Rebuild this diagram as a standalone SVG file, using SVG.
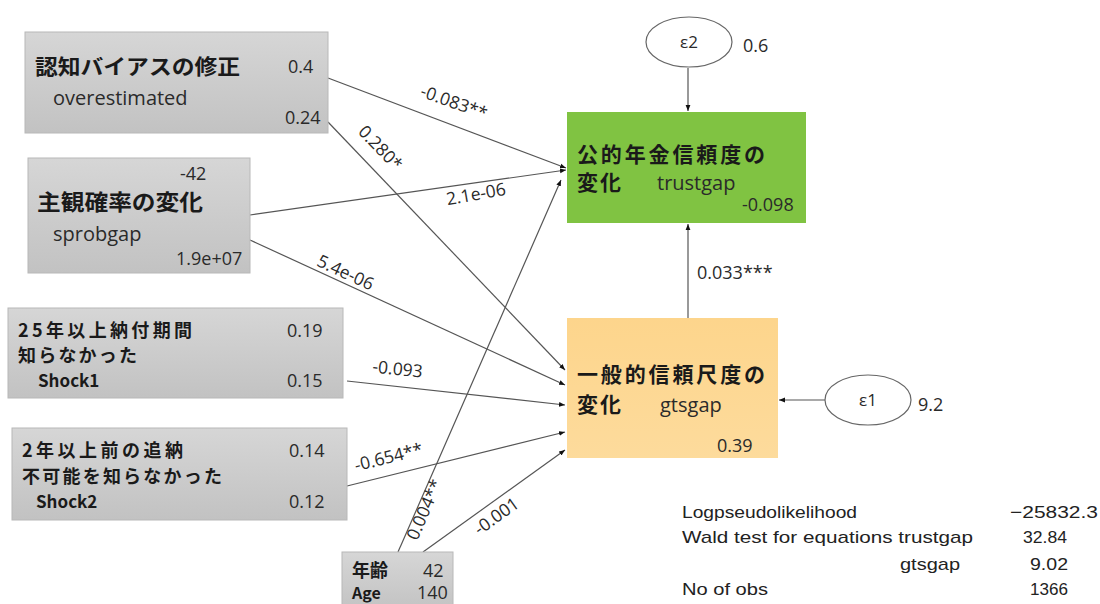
<svg xmlns="http://www.w3.org/2000/svg" width="1100" height="604" viewBox="0 0 1100 604">
<defs>
<linearGradient id="gray" x1="0" y1="0" x2="0" y2="1">
<stop offset="0" stop-color="#d6d6d6"/>
<stop offset="1" stop-color="#c2c2c2"/>
</linearGradient>
<linearGradient id="orange" x1="0" y1="0" x2="0" y2="1">
<stop offset="0" stop-color="#fdd58c"/>
<stop offset="1" stop-color="#fddb9c"/>
</linearGradient>
<marker id="ah" viewBox="0 0 10 10" refX="10" refY="5" markerWidth="6" markerHeight="6" orient="auto" markerUnits="userSpaceOnUse">
<path d="M0,1 L10,5 L0,9 z" fill="#111"/>
</marker>
</defs>
<style>
.box{fill:url(#gray);stroke:#b8b8b8;stroke-width:1}
.jp{font-family:"Noto Sans CJK JP","Open Sans",sans-serif;font-weight:bold;fill:#1a1a1a}
.en{font-family:"Open Sans","Noto Sans CJK JP",sans-serif;fill:#2a2a2a}
.num{font-family:"Open Sans",sans-serif;font-size:18px;fill:#2a2a2a}
.lbl{font-family:"Open Sans",sans-serif;font-size:17.5px;fill:#2a2a2a;text-anchor:middle}
.ln{stroke:#555;stroke-width:1.2;fill:none;marker-end:url(#ah)}
.stat{font-family:"Liberation Sans",sans-serif;font-size:17px;fill:#222}
</style>
<rect width="1100" height="604" fill="#fff"/>

<g id="connectors">
<line class="ln" x1="328" y1="78" x2="566" y2="168"/>
<line class="ln" x1="328" y1="122" x2="565" y2="370"/>
<line class="ln" x1="250" y1="215" x2="566" y2="170"/>
<line class="ln" x1="250" y1="240" x2="565" y2="385"/>
<line class="ln" x1="347" y1="381" x2="565" y2="405"/>
<line class="ln" x1="347" y1="486" x2="565" y2="432"/>
<line class="ln" x1="423" y1="552" x2="565" y2="450"/>
<line class="ln" x1="398" y1="552" x2="561" y2="180"/>
<line class="ln" x1="688" y1="318" x2="688" y2="224"/>
<line class="ln" x1="688" y1="68" x2="688" y2="111"/>
<line class="ln" x1="825" y1="400" x2="779" y2="400"/>
<text class="lbl" transform="translate(452,108) rotate(20)">-0.083**</text>
<text class="lbl" transform="translate(376,152) rotate(46)">0.280*</text>
<text class="lbl" transform="translate(477,200) rotate(-10)">2.1e-06</text>
<text class="lbl" transform="translate(343,278) rotate(25)">5.4e-06</text>
<text class="lbl" transform="translate(397,375) rotate(6)">-0.093</text>
<text class="lbl" transform="translate(390,463) rotate(-14)">-0.654**</text>
<text class="lbl" transform="translate(430,512) rotate(-66.5)">0.004**</text>
<text class="lbl" transform="translate(500,521) rotate(-35.7)">-0.001</text>
<text class="num" x="697" y="279">0.033***</text>
</g>

<g id="node-bias">
<rect class="box" x="25" y="32" width="303" height="101"/>
<text class="jp" x="35" y="74" font-size="21" textLength="205" lengthAdjust="spacingAndGlyphs">認知バイアスの修正</text>
<text class="en" x="53" y="105" font-size="20">overestimated</text>
<text class="num" x="288" y="73">0.4</text>
<text class="num" x="285" y="124">0.24</text>
</g>

<g id="node-sprob">
<rect class="box" x="28" y="158" width="222" height="115"/>
<text class="num" x="180" y="180">-42</text>
<text class="jp" x="37" y="210" font-size="22" textLength="166" lengthAdjust="spacingAndGlyphs">主観確率の変化</text>
<text class="en" x="53" y="241" font-size="20">sprobgap</text>
<text class="num" x="176" y="265">1.9e+07</text>
</g>

<g id="node-shock1">
<rect class="box" x="8" y="308" width="335" height="90"/>
<text class="jp" x="18" y="337" font-size="18" textLength="174" lengthAdjust="spacing">25年以上納付期間</text>
<text class="jp" x="18" y="362" font-size="18" textLength="119" lengthAdjust="spacing">知らなかった</text>
<text class="jp" x="38" y="387" font-size="17">Shock1</text>
<text class="num" x="287" y="337">0.19</text>
<text class="num" x="287" y="387">0.15</text>
</g>

<g id="node-shock2">
<rect class="box" x="12" y="428" width="335" height="92"/>
<text class="jp" x="22" y="457" font-size="18" textLength="161" lengthAdjust="spacing">2年以上前の追納</text>
<text class="jp" x="22" y="483" font-size="18" textLength="200" lengthAdjust="spacing">不可能を知らなかった</text>
<text class="jp" x="36" y="508" font-size="17">Shock2</text>
<text class="num" x="289" y="457">0.14</text>
<text class="num" x="289" y="508">0.12</text>
</g>

<g id="node-age">
<rect class="box" x="342" y="552" width="111" height="60"/>
<text class="jp" x="352" y="577" font-size="18">年齢</text>
<text class="num" x="423" y="577">42</text>
<text class="jp" x="352" y="599" font-size="16">Age</text>
<text class="num" x="417" y="599">140</text>
</g>

<g id="node-trustgap">
<rect x="567" y="112" width="239" height="111" fill="#80c342"/>
<text class="jp" x="577" y="162" font-size="21" textLength="188" lengthAdjust="spacing">公的年金信頼度の</text>
<text class="jp" x="577" y="190" font-size="21" textLength="44" lengthAdjust="spacing">変化</text>
<text class="en" x="657" y="190" font-size="20">trustgap</text>
<text class="num" x="742" y="211">-0.098</text>
</g>

<g id="node-gtsgap">
<rect x="567" y="318" width="211" height="140" fill="url(#orange)"/>
<text class="jp" x="577" y="382" font-size="21" textLength="188" lengthAdjust="spacing">一般的信頼尺度の</text>
<text class="jp" x="577" y="412" font-size="21" textLength="44" lengthAdjust="spacing">変化</text>
<text class="en" x="660" y="412" font-size="20">gtsgap</text>
<text class="num" x="717" y="452">0.39</text>
</g>

<g id="node-e2">
<ellipse cx="689" cy="42" rx="43" ry="25" fill="#fff" stroke="#666" stroke-width="1.2"/>
<text class="en" x="689" y="48" font-size="17" text-anchor="middle">ε2</text>
<text class="num" x="743" y="52">0.6</text>
</g>

<g id="node-e1">
<ellipse cx="868" cy="400" rx="43" ry="25" fill="#fff" stroke="#666" stroke-width="1.2"/>
<text class="en" x="868" y="406" font-size="17" text-anchor="middle">ε1</text>
<text class="num" x="918" y="411">9.2</text>
</g>

<g id="stats">
<text class="stat" x="682" y="518" textLength="175" lengthAdjust="spacingAndGlyphs">Logpseudolikelihood</text>
<text class="stat" x="682" y="543" textLength="291" lengthAdjust="spacingAndGlyphs">Wald test for equations trustgap</text>
<text class="stat" x="900" y="570" textLength="60" lengthAdjust="spacingAndGlyphs">gtsgap</text>
<text class="stat" x="682" y="595" textLength="86" lengthAdjust="spacingAndGlyphs">No of obs</text>
<text class="stat" x="1010" y="518" textLength="88" lengthAdjust="spacingAndGlyphs">−25832.3</text>
<text class="stat" x="1023" y="543" textLength="44" lengthAdjust="spacingAndGlyphs">32.84</text>
<text class="stat" x="1030" y="570" textLength="38" lengthAdjust="spacingAndGlyphs">9.02</text>
<text class="stat" x="1030" y="595" textLength="38" lengthAdjust="spacingAndGlyphs">1366</text>
</g>
</svg>
